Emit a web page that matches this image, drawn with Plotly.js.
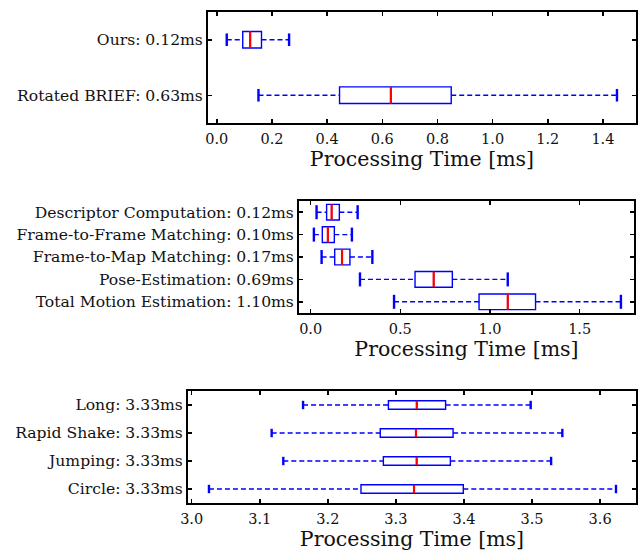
<!DOCTYPE html>
<html>
<head>
<meta charset="utf-8">
<script src="https://cdn.plot.ly/plotly-3.0.1.min.js"></script>
<style>html,body{margin:0;padding:0;background:#fff;}#chart{width:639px;height:551px;}</style>
</head>
<body>
<div id="chart"></div>
<script>
// Panel 1: descriptor comparison
const labels1 = ["Rotated BRIEF: 0.63ms", "Ours: 0.12ms"];
const pos1 = [1, 2];
const lo1 = [0.151, 0.036];
const q1_1 = [0.445, 0.094];
const med1 = [0.631, 0.121];
const q3_1 = [0.850, 0.162];
const hi1 = [1.451, 0.262];

// Panel 2: pipeline stages
const labels2 = ["Total Motion Estimation: 1.10ms", "Pose-Estimation: 0.69ms",
  "Frame-to-Map Matching: 0.17ms", "Frame-to-Frame Matching: 0.10ms", "Descriptor Computation: 0.12ms"];
const pos2 = [1, 2, 3, 4, 5];
const lo2 = [0.465, 0.275, 0.061, 0.018, 0.033];
const q1_2 = [0.939, 0.582, 0.134, 0.065, 0.089];
const med2 = [1.099, 0.686, 0.175, 0.096, 0.117];
const q3_2 = [1.254, 0.790, 0.219, 0.132, 0.160];
const hi2 = [1.730, 1.099, 0.344, 0.230, 0.262];

// Panel 3: motion sequences
const labels3 = ["Circle: 3.33ms", "Jumping: 3.33ms", "Rapid Shake: 3.33ms", "Long: 3.33ms"];
const pos3 = [1, 2, 3, 4];
const lo3 = [3.0254, 3.1346, 3.1175, 3.1636];
const q1_3 = [3.2487, 3.2816, 3.2770, 3.2890];
const med3 = [3.3266, 3.3305, 3.3295, 3.3306];
const q3_3 = [3.3990, 3.3800, 3.3840, 3.3730];
const hi3 = [3.6233, 3.5280, 3.5445, 3.4980];

const W = 639, H = 551;
const BLUE = '#0000ff', RED = '#ff0000';
const FONT = 'DejaVu Serif';

function panel(k, pos, lo, q1, med, q3, hi, boxW, capPx) {
  const xa = 'x' + (k === 1 ? '' : k), ya = 'y' + (k === 1 ? '' : k);
  const traces = [];
  traces.push({
    type: 'box', orientation: 'h', xaxis: xa, yaxis: ya,
    y: pos, q1: q1, median: med, q3: q3, lowerfence: q1, upperfence: q3,
    width: boxW, whiskerwidth: 0, fillcolor: 'rgba(0,0,0,0)',
    line: {color: BLUE, width: 1.4}, boxpoints: false, hoverinfo: 'skip', showlegend: false
  });
  const wx = [], wy = [];
  pos.forEach((p, i) => { wx.push(lo[i], q1[i], null, q3[i], hi[i], null); wy.push(p, p, null, p, p, null); });
  traces.push({type: 'scatter', mode: 'lines', xaxis: xa, yaxis: ya, x: wx, y: wy,
    line: {color: BLUE, width: 1.4, dash: '5px,3px'}, hoverinfo: 'skip', showlegend: false});
  traces.push({type: 'scatter', mode: 'markers', xaxis: xa, yaxis: ya,
    x: lo.concat(hi), y: pos.concat(pos),
    marker: {symbol: 'line-ns', size: capPx, line: {color: BLUE, width: 2.4}}, hoverinfo: 'skip', showlegend: false});
  const mx = [], my = [];
  pos.forEach((p, i) => { mx.push(med[i], med[i], null); my.push(p - boxW / 2, p + boxW / 2, null); });
  traces.push({type: 'scatter', mode: 'lines', xaxis: xa, yaxis: ya, x: mx, y: my,
    line: {color: RED, width: 2.2}, hoverinfo: 'skip', showlegend: false});
  return traces;
}

const data = [].concat(
  panel(1, pos1, lo1, q1_1, med1, q3_1, hi1, 0.3, 9),
  panel(2, pos2, lo2, q1_2, med2, q3_2, hi2, 0.7, 10),
  panel(3, pos3, lo3, q1_3, med3, q3_3, hi3, 0.3, 6)
);

function xax(domL, domR, range, dtick, anchor) {
  return {
    domain: [domL / W, domR / W], range: range, anchor: anchor,
    tickmode: 'linear', tick0: 0, dtick: dtick, tickformat: '.1f',
    ticks: 'inside', ticklen: 4, tickwidth: 1.5, tickcolor: '#000',
    showline: true, linewidth: 2, linecolor: '#000', mirror: 'allticks',
    showgrid: false, zeroline: false, ticklabelstandoff: 2,
    tickfont: {family: FONT, size: 14.5, color: '#111'},
    title: {text: 'Processing Time [ms]', font: {family: FONT, size: 20.5, color: '#111'}, standoff: 4}
  };
}
function yax(top, bot, n, labels, pos, anchor) {
  return {
    domain: [1 - bot / H, 1 - top / H], range: [0.5, n + 0.5], anchor: anchor,
    tickmode: 'array', tickvals: pos, ticktext: labels,
    ticks: 'inside', ticklen: 4, tickwidth: 1.5, tickcolor: '#000',
    showline: true, linewidth: 2, linecolor: '#000', mirror: 'allticks',
    showgrid: false, zeroline: false,
    tickfont: {family: FONT, size: 15.6, color: '#111'}
  };
}

const layout = {
  width: W, height: H, margin: {l: 0, r: 0, t: 0, b: 0},
  paper_bgcolor: '#fff', plot_bgcolor: '#fff', showlegend: false,
  xaxis: xax(208, 636, [-0.032, 1.52], 0.2, 'y'),
  yaxis: yax(12, 123, 2, labels1, pos1, 'x'),
  xaxis2: xax(299, 634, [-0.065, 1.803], 0.5, 'y2'),
  yaxis2: yax(201, 313, 5, labels2, pos2, 'x2'),
  xaxis3: xax(188, 636, [2.9946, 3.6527], 0.1, 'y3'),
  yaxis3: yax(391, 503, 4, labels3, pos3, 'x3')
};

Plotly.newPlot('chart', data, layout, {displayModeBar: false, staticPlot: true});
</script>
</body>
</html>
